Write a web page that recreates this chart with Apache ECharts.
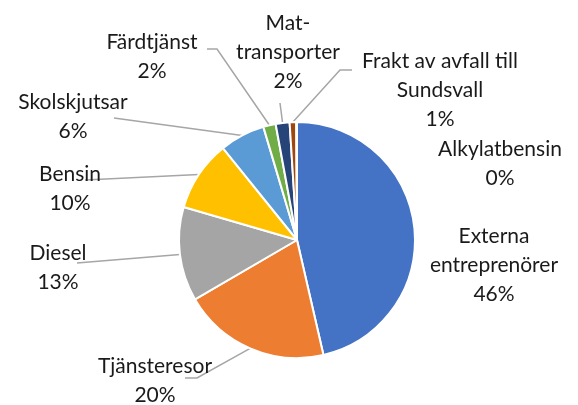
<!DOCTYPE html>
<html>
<head>
<meta charset="utf-8">
<script src="https://cdn.jsdelivr.net/npm/echarts@6/dist/echarts.min.js"></script>
<style>
  html, body { margin: 0; padding: 0; background: #fff; }
  #chart { width: 578px; height: 405px; }
</style>
</head>
<body>
<div id="chart"></div>
<script>
// categories and shares (percent of total)
const categories = ['Externa entreprenörer', 'Tjänsteresor', 'Diesel', 'Bensin', 'Skolskjutsar',
    'Färdtjänst', 'Mat-transporter', 'Frakt av avfall till Sundsvall', 'Alkylatbensin'];
const labelNames = ['Externa\nentreprenörer', 'Tjänsteresor', 'Diesel', 'Bensin', 'Skolskjutsar',
    'Färdtjänst', 'Mat-\ntransporter', 'Frakt av avfall till\nSundsvall', 'Alkylatbensin'];
const shares = [46.4, 20.2, 12.9, 9.7, 6.2, 1.7, 1.9, 0.9, 0.1];
const colors = ['#4472C4', '#ED7D31', '#A5A5A5', '#FFC000', '#5B9BD5',
    '#70AD47', '#264478', '#9E480E', '#636363'];

// where each label sits (block centre) and how its leader line bends
const labelPos = [
    [494, 265], [155, 381], [58, 268], [70, 189], [73, 117],
    [152, 57], [288, 52], [440, 90], [500, 164]
];
const lineBend = [
    null, [[197, 378], [185, 378]], [[77, 263], [77, 263]], [[85, 180], [85, 180]],
    [[114, 118], [114, 118]], [[217, 49], [207, 49]], [[280, 103], [280, 103]],
    [[340, 70], [352, 70]], null
];

const chart = echarts.init(document.getElementById('chart'));

chart.setOption({
    animation: false,
    color: colors,
    series: [{
        type: 'pie',
        center: [297, 240],
        radius: 118,
        startAngle: 90,
        clockwise: true,
        avoidLabelOverlap: false,
        itemStyle: { borderColor: '#fff', borderWidth: 2 },
        label: {
            show: true,
            position: 'outside',
            alignTo: 'none',
            overflow: 'none',
            formatter: p => labelNames[p.dataIndex] + '\n' + p.percent + '%',
            fontFamily: 'Lato',
            fontSize: 21,
            lineHeight: 29,
            color: '#1a1a1a',
            align: 'center'
        },
        labelLine: {
            show: true,
            lineStyle: { color: '#a6a6a6', width: 1.5 }
        },
        percentPrecision: 0,
        data: categories.map((c, i) => ({
            name: c,
            value: shares[i],
            labelLine: { show: lineBend[i] !== null }
        })),
        labelLayout: function (params) {
            const i = params.dataIndex;
            const out = {
                x: labelPos[i][0],
                y: labelPos[i][1],
                align: 'center',
                verticalAlign: 'middle'
            };
            if (lineBend[i] && params.labelLinePoints) {
                out.labelLinePoints = [params.labelLinePoints[0], lineBend[i][0], lineBend[i][1]];
            }
            return out;
        }
    }]
});
</script>
</body>
</html>
